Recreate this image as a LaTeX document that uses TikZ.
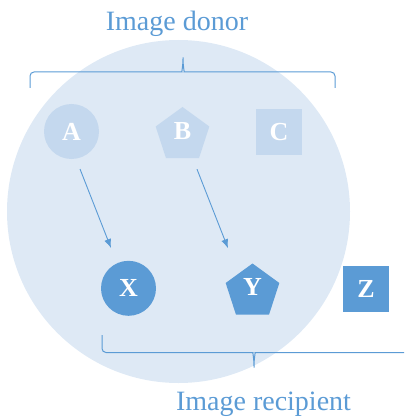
\documentclass[tikz,border=0pt]{standalone}
\usepackage{fontspec}
\setmainfont{Liberation Serif}
\usetikzlibrary{shapes.geometric,arrows.meta,calc}
\definecolor{accent}{HTML}{5B9BD5}
\definecolor{halo}{HTML}{DEE9F5}
\definecolor{pale}{HTML}{C4D8EE}
\tikzset{
  x=1pt, y=-1pt,
  item/.style={inner sep=0pt, text=white, font=\fontsize{26}{26}\selectfont\bfseries},
  round/.style={item, circle, minimum size=55pt},
  penta/.style={item, regular polygon, regular polygon sides=5, minimum size=56.4pt, text depth=9pt},
  sq/.style={item, rectangle, minimum size=46pt},
  donor/.style={fill=pale},
  recip/.style={fill=accent},
  brace/.style={draw=accent, line width=1pt, rounded corners=4pt},
  link/.style={draw=accent, line width=0.9pt, -{Latex[length=9pt,width=7pt]}},
  caption/.style={text=accent, font=\fontsize{28}{28}\selectfont, inner sep=0pt}
}
\begin{document}
\begin{tikzpicture}
\useasboundingbox (0,0) rectangle (404,417);
% background disc
\fill[halo] (178.5,211.5) circle[radius=171.5];

% donor row
\node[round, donor] (A) at (71.5,131.5) {A};
\node[penta, donor] (B) at (182.5,135.2) {B};
\node[sq, donor] (C) at (279,132) {C};

% recipient row
\node[round, recip] (X) at (128.5,288.3) {X};
\node[penta, recip] (Y) at (252.5,291.7) {Y};
\node[sq, recip] (Z) at (366,288.7) {Z};

% transfers
\draw[link] ($(A)+(8.5,37.5)$) -- ($(X)+(-17.5,-40.3)$);
\draw[link] ($(B)+(14.5,34)$) -- ($(Y)+(-24.5,-43.5)$);

% top brace
\draw[brace] (30,88) |- (178,72) .. controls (181.5,72) and (183,66) .. (183,55)
  .. controls (183,66) and (184.5,72) .. (188,72) -| (335,88);
\node[caption, anchor=base] (donorlabel) at (177,31) {Image donor};

% bottom brace
\draw[brace] (102,335) |- (249,352.5) .. controls (252.5,352.5) and (254,358) .. (254,370)
  .. controls (254,358) and (255.5,352.5) .. (259,352.5) -- (404,352.5);
\node[caption, anchor=base] (reciplabel) at (263.5,410) {Image recipient};
\end{tikzpicture}
\end{document}
